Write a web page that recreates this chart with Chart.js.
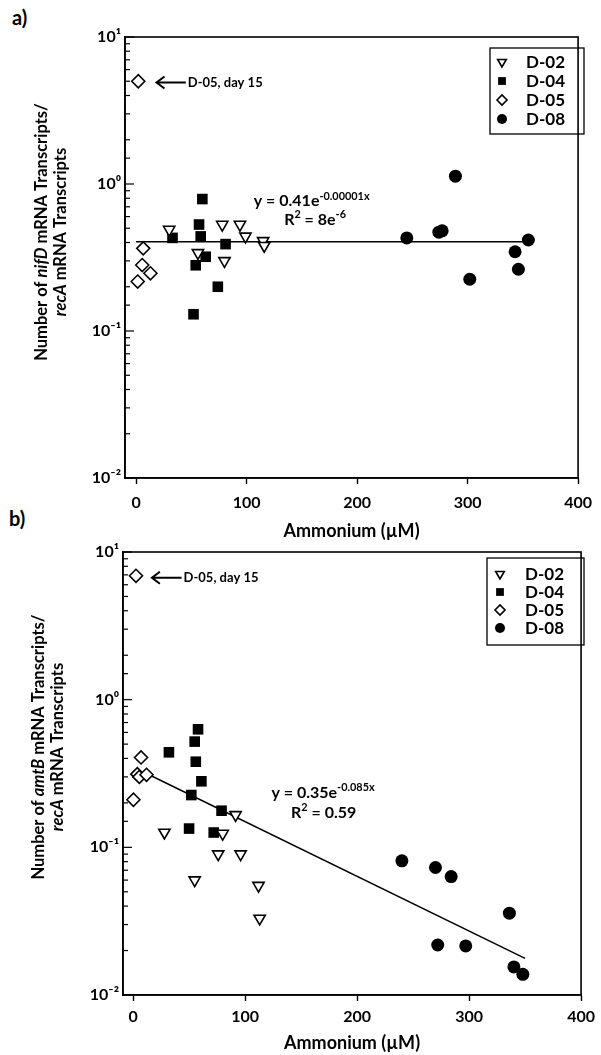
<!DOCTYPE html>
<html><head><meta charset="utf-8">
<script src="https://cdn.jsdelivr.net/npm/chart.js@4.4.1/dist/chart.umd.min.js"></script>
<style>
html,body{margin:0;padding:0;background:#fff;width:601px;height:1055px;overflow:hidden;position:relative}
canvas{position:absolute;left:0}
#ca{top:0}
#cb{top:520px}
.lab{position:absolute;font-family:Lato,sans-serif;font-weight:bold;font-size:20px;color:#000}
</style></head><body>
<div class="lab" style="left:12px;top:5px">a)</div>
<div class="lab" style="left:9px;top:506px">b)</div>
<canvas id="ca" width="601" height="545"></canvas>
<canvas id="cb" width="601" height="535"></canvas>
<script>
// ---------- data ----------
const seriesNames = ['D-02', 'D-04', 'D-05', 'D-08'];
const xTickValues = [0, 100, 200, 300, 400];
const yTickValues = [0.01, 0.1, 1, 10];
const yTickLabels = ['10\u207B\u00B2', '10\u207B\u00B9', '10\u2070', '10\u00B9'];

// panel a (nifD)
const aD02x = [30, 56, 78, 80, 94, 99, 115, 116];
const aD02y = [0.49, 0.34, 0.53, 0.30, 0.53, 0.44, 0.41, 0.38];
const aD04x = [33, 52, 54, 57, 58.5, 60, 63, 74, 81];
const aD04y = [0.43, 0.13, 0.28, 0.53, 0.44, 0.79, 0.32, 0.20, 0.39];
const aD05x = [2, 1.5, 5.6, 6.5, 13];
const aD05y = [5.0, 0.217, 0.281, 0.365, 0.247];
const aD08x = [245, 274, 277, 289, 302, 343, 346, 355];
const aD08y = [0.43, 0.47, 0.48, 1.13, 0.225, 0.346, 0.263, 0.416];
const aFitX = [0, 352];
const aFitY = [0.405, 0.405];

// panel b (amtB)
const bD02x = [28, 80, 91.5, 55, 76, 96, 112, 113];
const bD02y = [0.126, 0.124, 0.166, 0.06, 0.09, 0.09, 0.055, 0.033];
const bD04x = [32, 50, 52, 55, 56, 58, 61, 72, 79];
const bD04y = [0.44, 0.134, 0.226, 0.52, 0.38, 0.63, 0.28, 0.126, 0.177];
const bD05x = [2.6, 0.3, 3.8, 5.6, 7.1, 12];
const bD05y = [6.9, 0.21, 0.313, 0.30, 0.406, 0.31];
const bD08x = [240, 270, 272, 284, 297, 336, 340, 348];
const bD08y = [0.081, 0.073, 0.0218, 0.0634, 0.0215, 0.0358, 0.0155, 0.0138];
const bFitX = [12, 350];
const bFitY = [0.316, 0.0177];

// ---------- helpers ----------
const FONT = 'Lato, sans-serif';
const pts = (xs, ys) => xs.map((x, i) => ({x: x, y: ys[i]}));
const styles = [
  {pointStyle: 'triangle', rotation: 180, pointRadius: 6.5, backgroundColor: '#fff', borderColor: '#000', borderWidth: 1.6, lg: 5},
  {pointStyle: 'rect', rotation: 0, pointRadius: 7.5, backgroundColor: '#000', borderColor: '#000', borderWidth: 0, lg: 5.5},
  {pointStyle: 'rectRot', rotation: 0, pointRadius: 6.5, backgroundColor: '#fff', borderColor: '#000', borderWidth: 1.6, lg: 5},
  {pointStyle: 'circle', rotation: 0, pointRadius: 6.5, backgroundColor: '#000', borderColor: '#000', borderWidth: 0, lg: 5}
];

function makeDatasets(xsList, ysList, fitX, fitY) {
  const ds = xsList.map((xs, k) => ({
    label: seriesNames[k],
    data: pts(xs, ysList[k]),
    pointStyle: styles[k].pointStyle,
    rotation: styles[k].rotation,
    pointRadius: styles[k].pointRadius,
    pointHoverRadius: styles[k].pointRadius,
    backgroundColor: styles[k].backgroundColor,
    borderColor: styles[k].borderColor,
    borderWidth: styles[k].borderWidth,
    showLine: false,
    order: 1
  }));
  ds.push({
    label: 'fit',
    data: pts(fitX, fitY),
    showLine: true,
    pointRadius: 0,
    borderColor: '#000',
    borderWidth: 1.5,
    order: 10
  });
  return ds;
}

function drawRich(ctx, parts, x, y, size) {
  let cx = x;
  parts.forEach(p => {
    const s = p.sup ? size * 0.68 : size;
    ctx.font = (p.it ? 'italic ' : '') + 'bold ' + s + 'px ' + FONT;
    ctx.fillText(p.t, cx, p.sup ? y - size * 0.42 : y);
    cx += ctx.measureText(p.t).width;
  });
}
function richWidth(ctx, parts, size) {
  let w = 0;
  parts.forEach(p => {
    const s = p.sup ? size * 0.68 : size;
    ctx.font = (p.it ? 'italic ' : '') + 'bold ' + s + 'px ' + FONT;
    w += ctx.measureText(p.t).width;
  });
  return w;
}

const decoPlugin = {
  id: 'deco',
  afterDatasetsDraw(chart, args, o) {
    const ctx = chart.ctx, ca = chart.chartArea;
    const xs = chart.scales.x, ys = chart.scales.y;
    ctx.save();
    ctx.fillStyle = '#000';
    ctx.strokeStyle = '#000';
    ctx.lineWidth = 1.6;
    ctx.strokeRect(ca.left, ca.top, ca.right - ca.left, ca.bottom - ca.top);
    ctx.lineWidth = 1.2;
    ys.ticks.forEach(t => {
      const py = ys.getPixelForValue(t.value);
      const e = Math.log10(t.value);
      const major = Math.abs(e - Math.round(e)) < 1e-6;
      ctx.beginPath();
      ctx.moveTo(ca.left, py);
      ctx.lineTo(ca.left + (major ? 9 : 5), py);
      ctx.stroke();
    });
    const ar = o.arrow;
    const ay = ys.getPixelForValue(ar.y);
    const ax1 = xs.getPixelForValue(ar.x1), ax2 = xs.getPixelForValue(ar.x2);
    ctx.lineWidth = 2;
    ctx.beginPath();
    ctx.moveTo(ax1, ay); ctx.lineTo(ax2, ay);
    ctx.moveTo(ax1 + 8, ay - 6); ctx.lineTo(ax1, ay); ctx.lineTo(ax1 + 8, ay + 6);
    ctx.stroke();
    ctx.textBaseline = 'middle';
    ctx.textAlign = 'left';
    ctx.font = 'bold 13px ' + FONT;
    ctx.fillText(ar.text, ax2 + 2, ay);
    ctx.textBaseline = 'alphabetic';
    o.eq.forEach(q => {
      drawRich(ctx, q.parts, xs.getPixelForValue(q.x), ys.getPixelForValue(q.y), 16);
    });
    const L = o.legend;
    ctx.lineWidth = 1.3;
    ctx.strokeRect(L.left, L.top, L.w, L.h);
    ctx.font = 'bold 17px ' + FONT;
    ctx.textBaseline = 'middle';
    seriesNames.forEach((n, k) => {
      const yy = L.top + L.first + k * L.step;
      const st = styles[k];
      ctx.fillStyle = st.backgroundColor;
      ctx.strokeStyle = st.borderColor;
      ctx.lineWidth = st.borderWidth || 0.01;
      Chart.helpers.drawPoint(ctx, {pointStyle: st.pointStyle, rotation: st.rotation, radius: st.lg, borderWidth: st.borderWidth}, L.left + L.sym, yy);
      ctx.fillStyle = '#000';
      ctx.fillText(n, L.left + L.txt, yy + 1);
    });
    const T = o.ytitle;
    ctx.save();
    ctx.translate(T.cx, T.cy);
    ctx.rotate(-Math.PI / 2);
    ctx.textBaseline = 'middle';
    ctx.fillStyle = '#000';
    T.lines.forEach((ln, i) => {
      const w = richWidth(ctx, ln, T.size);
      drawRich(ctx, ln, -w / 2, (i - (T.lines.length - 1) / 2) * T.gap, T.size);
    });
    ctx.restore();
    ctx.restore();
  }
};

function makeChart(id, ds, geo, deco) {
  return new Chart(document.getElementById(id), {
    type: 'scatter',
    data: {datasets: ds},
    plugins: [decoPlugin],
    options: {
      responsive: false,
      animation: false,
      events: [],
      layout: {padding: {top: geo.top, right: geo.right, left: 0, bottom: 0}},
      plugins: {legend: {display: false}, tooltip: {enabled: false}, deco: deco},
      scales: {
        x: {
          type: 'linear', min: geo.xmin, max: 400,
          afterBuildTicks: s => { s.ticks = xTickValues.map(v => ({value: v})); },
          afterFit: s => { s.height = geo.xh; },
          border: {display: true, color: '#000', width: 1.6},
          grid: {display: true, drawOnChartArea: false, drawTicks: true, tickLength: 6, tickWidth: 1.4, tickColor: '#000'},
          ticks: {color: '#000', font: {family: FONT, size: 16, weight: 'bold'}, padding: geo.tpad, maxRotation: 0, autoSkip: false},
          title: {display: true, text: 'Ammonium (\u00B5M)', color: '#000', font: {family: FONT, size: 18, weight: 'bold'}, padding: {top: 0, bottom: geo.tbot}}
        },
        y: {
          type: 'logarithmic', min: 0.01, max: 10,
          afterFit: s => { s.width = geo.left; },
          border: {display: true, color: '#000', width: 1.6},
          grid: {display: false, drawTicks: false},
          ticks: {
            color: '#000', font: {family: FONT, size: 16, weight: 'bold'}, padding: 4, autoSkip: false,
            callback: v => { const i = yTickValues.findIndex(t => Math.abs(t - v) / t < 1e-6); return i >= 0 ? yTickLabels[i] : ''; }
          }
        }
      }
    }
  });
}

makeChart('ca',
  makeDatasets([aD02x, aD04x, aD05x, aD08x], [aD02y, aD04y, aD05y, aD08y], aFitX, aFitY),
  {top: 37, right: 11, left: 125, xmin: -10, xh: 67, tpad: 9, tbot: 3},
  {
    arrow: {x1: 18.5, x2: 45, y: 4.9, text: 'D-05, day 15'},
    eq: [
      {x: 106.5, y: 0.705, parts: [{t: 'y = 0.41e'}, {t: '-0.00001x', sup: true}]},
      {x: 134, y: 0.53, parts: [{t: 'R'}, {t: '2', sup: true}, {t: ' = 8e'}, {t: '-6', sup: true}]}
    ],
    legend: {left: 490, top: 48, w: 94, h: 86, sym: 12, txt: 36, first: 14, step: 19},
    ytitle: {cx: 51.5, cy: 232, gap: 19, size: 16.5, lines: [
      [{t: 'Number of '}, {t: 'nifD', it: true}, {t: ' mRNA Transcripts/'}],
      [{t: 'recA', it: true}, {t: ' mRNA Transcripts'}]
    ]}
  });

makeChart('cb',
  makeDatasets([bD02x, bD04x, bD05x, bD08x], [bD02y, bD04y, bD05y, bD08y], bFitX, bFitY),
  {top: 32, right: 14, left: 123, xmin: -9, xh: 60, tpad: 6, tbot: 1},
  {
    arrow: {x1: 16.8, x2: 43.3, y: 6.7, text: 'D-05, day 15'},
    eq: [
      {x: 123.5, y: 0.217, parts: [{t: 'y = 0.35e'}, {t: '-0.085x', sup: true}]},
      {x: 141, y: 0.158, parts: [{t: 'R'}, {t: '2', sup: true}, {t: ' = 0.59'}]}
    ],
    legend: {left: 487, top: 38, w: 97, h: 87, sym: 13, txt: 38, first: 16, step: 18},
    ytitle: {cx: 48.5, cy: 227, gap: 19, size: 16.5, lines: [
      [{t: 'Number of '}, {t: 'amtB', it: true}, {t: ' mRNA Transcripts/'}],
      [{t: 'recA', it: true}, {t: ' mRNA Transcripts'}]
    ]}
  });
</script>
</body></html>
